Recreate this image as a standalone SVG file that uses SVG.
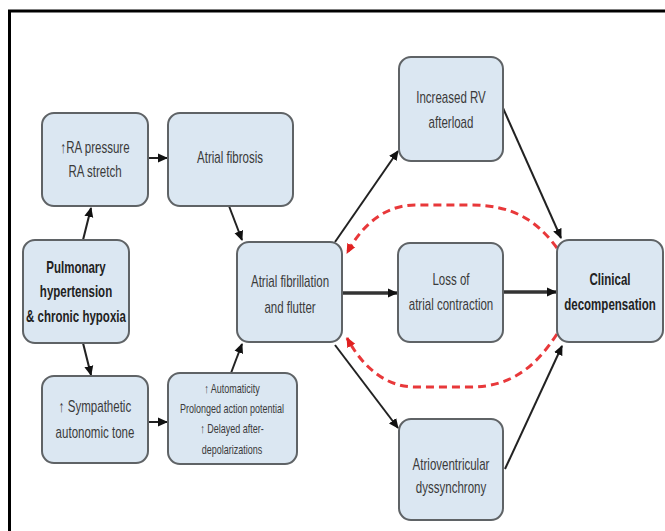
<svg xmlns="http://www.w3.org/2000/svg" width="665" height="531" viewBox="0 0 665 531">
<style>
.box{fill:#dbe7f2;stroke:#5f6366;stroke-width:2}
text{font-family:"Liberation Sans",Arial,sans-serif;fill:#3a3a3a;text-anchor:middle;font-size:16px}
.b{font-weight:bold;fill:#222}
.sm{font-size:12.5px}
.c{stroke:#222;stroke-width:2;fill:none}
.ck{stroke:#333;stroke-width:3.5;fill:none}
.r{stroke:#e8383a;stroke-width:3;fill:none;stroke-dasharray:8 5}
</style>
<defs>
<marker id="ah" markerWidth="10" markerHeight="10" refX="9" refY="5" orient="auto" markerUnits="userSpaceOnUse" viewBox="0 0 10 10">
<path d="M0,0.5 L10,5 L0,9.5 z" fill="#111"/>
</marker>
<marker id="ahr" markerWidth="10" markerHeight="10" refX="9" refY="5" orient="auto" markerUnits="userSpaceOnUse" viewBox="0 0 10 10">
<path d="M0,0.5 L10,5 L0,9.5 z" fill="#e02020"/>
</marker>
</defs>
<rect width="665" height="531" fill="#fff"/>
<path d="M9.5,531 V11 H665" fill="none" stroke="#000" stroke-width="3"/>

<g id="connectors">
<line class="c" x1="83" y1="240" x2="91" y2="208" marker-end="url(#ah)"/>
<line class="c" x1="83" y1="343" x2="91" y2="375" marker-end="url(#ah)"/>
<line class="c" x1="148" y1="158" x2="167" y2="158" marker-end="url(#ah)"/>
<line class="c" x1="148" y1="422" x2="167" y2="422" marker-end="url(#ah)"/>
<line class="c" x1="229" y1="206" x2="242" y2="240" marker-end="url(#ah)"/>
<line class="c" x1="231" y1="373" x2="242" y2="344" marker-end="url(#ah)"/>
<line class="c" x1="335" y1="242" x2="398" y2="151" marker-end="url(#ah)"/>
<line class="ck" x1="342" y1="293" x2="397" y2="293" marker-end="url(#ah)"/>
<line class="c" x1="335" y1="345" x2="398" y2="428" marker-end="url(#ah)"/>
<line class="c" x1="503" y1="108" x2="561" y2="238" marker-end="url(#ah)"/>
<line class="ck" x1="503" y1="292" x2="556" y2="292" marker-end="url(#ah)"/>
<line class="c" x1="505" y1="469" x2="562" y2="346" marker-end="url(#ah)"/>
<path class="r" d="M557,248 C535,218 510,205 470,205 L415,205 C385,205 362,225 347,253" marker-end="url(#ahr)"/>
<path class="r" d="M557,334 C535,368 510,387 470,387 L415,387 C385,387 362,366 347,338" marker-end="url(#ahr)"/>
</g>

<g id="n-ra">
<rect class="box" x="42" y="113" width="106" height="93" rx="12"/>
<text transform="translate(95,153) scale(0.72,1)">↑RA pressure</text>
<text transform="translate(95,177) scale(0.72,1)">RA stretch</text>
</g>
<g id="n-fibrosis">
<rect class="box" x="168" y="113" width="125" height="93" rx="12"/>
<text transform="translate(230,163) scale(0.72,1)">Atrial fibrosis</text>
</g>
<g id="n-ph">
<rect class="box" x="23" y="240" width="106" height="103" rx="12"/>
<text class="b" transform="translate(76,273) scale(0.72,1)">Pulmonary</text>
<text class="b" transform="translate(76,297) scale(0.72,1)">hypertension</text>
<text class="b" transform="translate(76,322) scale(0.72,1)">&amp; chronic hypoxia</text>
</g>
<g id="n-symp">
<rect class="box" x="42" y="376" width="106" height="87" rx="12"/>
<text transform="translate(95,412) scale(0.72,1)">↑ Sympathetic</text>
<text transform="translate(95,438) scale(0.72,1)">autonomic tone</text>
</g>
<g id="n-auto">
<rect class="box" x="168" y="373" width="129" height="91" rx="12"/>
<text class="sm" transform="translate(232,393) scale(0.72,1)">↑ Automaticity</text>
<text class="sm" transform="translate(232,413) scale(0.72,1)">Prolonged action potential</text>
<text class="sm" transform="translate(232,433) scale(0.72,1)">↑ Delayed after-</text>
<text class="sm" transform="translate(232,454) scale(0.72,1)">depolarizations</text>
</g>
<g id="n-af">
<rect class="box" x="237" y="242" width="105" height="100" rx="12"/>
<text transform="translate(290,287) scale(0.72,1)">Atrial fibrillation</text>
<text transform="translate(290,313) scale(0.72,1)">and flutter</text>
</g>
<g id="n-rv">
<rect class="box" x="399" y="57" width="104" height="104" rx="12"/>
<text transform="translate(451,103) scale(0.72,1)">Increased RV</text>
<text transform="translate(451,128) scale(0.72,1)">afterload</text>
</g>
<g id="n-loss">
<rect class="box" x="398" y="243" width="105" height="99" rx="12"/>
<text transform="translate(451,285) scale(0.72,1)">Loss of</text>
<text transform="translate(451,310) scale(0.72,1)">atrial contraction</text>
</g>
<g id="n-av">
<rect class="box" x="399" y="419" width="104" height="101" rx="12"/>
<text transform="translate(451,470) scale(0.72,1)">Atrioventricular</text>
<text transform="translate(451,493) scale(0.72,1)">dyssynchrony</text>
</g>
<g id="n-clin">
<rect class="box" x="557" y="240" width="106" height="102" rx="12"/>
<text class="b" transform="translate(610,285) scale(0.72,1)">Clinical</text>
<text class="b" transform="translate(610,310) scale(0.72,1)">decompensation</text>
</g>
</svg>
